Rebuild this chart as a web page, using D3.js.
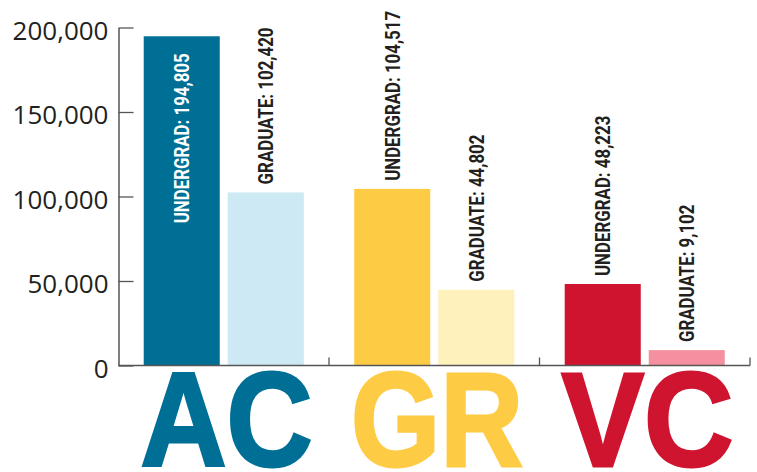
<!DOCTYPE html>
<html>
<head>
<meta charset="utf-8">
<script src="https://cdn.jsdelivr.net/npm/d3@7"></script>
<style>
  body { margin: 0; background: #fff; }
  .ytick text { font-family: "Open Sans", sans-serif; font-size: 26px; fill: #231f20; }
  .barlabel { font-family: Roboto, "Liberation Sans", sans-serif; font-weight: bold; font-size: 20.5px; }
  .big { font-family: "Liberation Sans", Arial, sans-serif; font-weight: bold; font-size: 133px; }
</style>
</head>
<body>
<svg id="chart" width="757" height="472"></svg>
<script>
// campuses and enrollment
const campuses = ['AC', 'GR', 'VC'];
const levels = ['UNDERGRAD', 'GRADUATE'];
const undergrad = [194805, 104517, 48223];
const graduate = [102420, 44802, 9102];
const yTicks = [0, 50000, 100000, 150000, 200000];

const darkColors = ['#006f96', '#fecb45', '#cf1430'];
const lightColors = ['#cde9f3', '#fef1bc', '#f4909f'];

let svg = d3.select('#chart');

let x = d3.scaleBand()
    .domain( campuses )
    .range( [118.5, 750] );
let xInner = d3.scaleBand()
    .domain( levels )
    .range( [0, x.bandwidth()] )
    .paddingInner( 0.095 )
    .paddingOuter( 0.3 );
let y = d3.scaleLinear()
    .domain( [0, 200000] )
    .range( [365.5, 27.5] );

// flatten into one row per bar
let rows = [];
campuses.forEach(function(c, i) {
    rows.push({campus: c, level: 'UNDERGRAD', value: undergrad[i], color: darkColors[i], i: i});
    rows.push({campus: c, level: 'GRADUATE', value: graduate[i], color: lightColors[i], i: i});
});

// bars
svg.append('g').selectAll('rect')
    .data( rows )
    .enter().append('rect')
        .attr('x', function(d){ return x(d.campus) + xInner(d.level); })
        .attr('y', function(d){ return y(d.value); })
        .attr('width', xInner.bandwidth())
        .attr('height', function(d){ return y(0) - y(d.value); })
        .attr('fill', function(d){ return d.color; });

// y axis, ticks pointing inward
let yAxis = svg.append('g')
    .attr('class', 'ytick')
    .attr('transform', 'translate(118.5,0)')
    .call( d3.axisLeft(y)
        .tickValues( yTicks )
        .tickFormat( d3.format(',') )
        .tickSizeInner( -15 )
        .tickSizeOuter( 0 )
        .tickPadding( 10 ) );
yAxis.select('.domain').attr('stroke', '#3a3a3a').attr('stroke-width', 1.3);
yAxis.selectAll('.tick line').attr('stroke', '#555').attr('stroke-width', 1.3);
yAxis.selectAll('.tick text').attr('dy', '0.45em');
yAxis.attr('font-family', null).attr('font-size', null);

// baseline with group separators
let base = svg.append('g');
base.append('line')
    .attr('x1', x.range()[0]).attr('x2', x.range()[1])
    .attr('y1', y(0)).attr('y2', y(0))
    .attr('stroke', '#555').attr('stroke-width', 1.3);
base.selectAll('.sep')
    .data( campuses )
    .enter().append('line')
        .attr('x1', function(d){ return x(d) + x.bandwidth(); })
        .attr('x2', function(d){ return x(d) + x.bandwidth(); })
        .attr('y1', y(0)).attr('y2', y(0) - 8)
        .attr('stroke', '#555').attr('stroke-width', 1.3);

// rotated value labels; the tallest bar holds its label inside
let maxVal = d3.max(rows, function(d){ return d.value; });
let labels = svg.append('g').selectAll('text')
    .data( rows )
    .enter().append('text')
        .attr('class', 'barlabel')
        .attr('dy', '0.36em')
        .attr('text-anchor', function(d){ return d.value === maxVal ? 'end' : 'start'; })
        .attr('fill', function(d){ return d.value === maxVal ? '#fff' : '#231f20'; })
        .text(function(d){ return d.level + ': ' + d3.format(',')(d.value); });

// condense the type so "GRADUATE: 102,420" runs about 157px, as printed
let sample = labels.filter(function(d){ return d.campus === 'AC' && d.level === 'GRADUATE'; });
let squeeze = 157 / sample.node().getComputedTextLength();
labels.attr('transform', function(d) {
    let cx = x(d.campus) + xInner(d.level) + xInner.bandwidth() / 2;
    let inside = d.value === maxVal;
    let ty = inside ? y(d.value) + 17 : y(d.value) - 8;
    return 'translate(' + cx + ',' + ty + ') rotate(-90) scale(' + squeeze + ',1)';
});

// big campus letters under the baseline
svg.append('g').selectAll('text')
    .data( campuses )
    .enter().append('text')
        .attr('class', 'big')
        .attr('x', function(d){ return x(d) + 22; })
        .attr('y', 466)
        .attr('textLength', 172)
        .attr('lengthAdjust', 'spacingAndGlyphs')
        .attr('fill', function(d, i){ return darkColors[i]; })
        .attr('stroke', function(d, i){ return darkColors[i]; })
        .attr('stroke-width', 3)
        .attr('stroke-linejoin', 'miter')
        .text(function(d){ return d; });
</script>
</body>
</html>
